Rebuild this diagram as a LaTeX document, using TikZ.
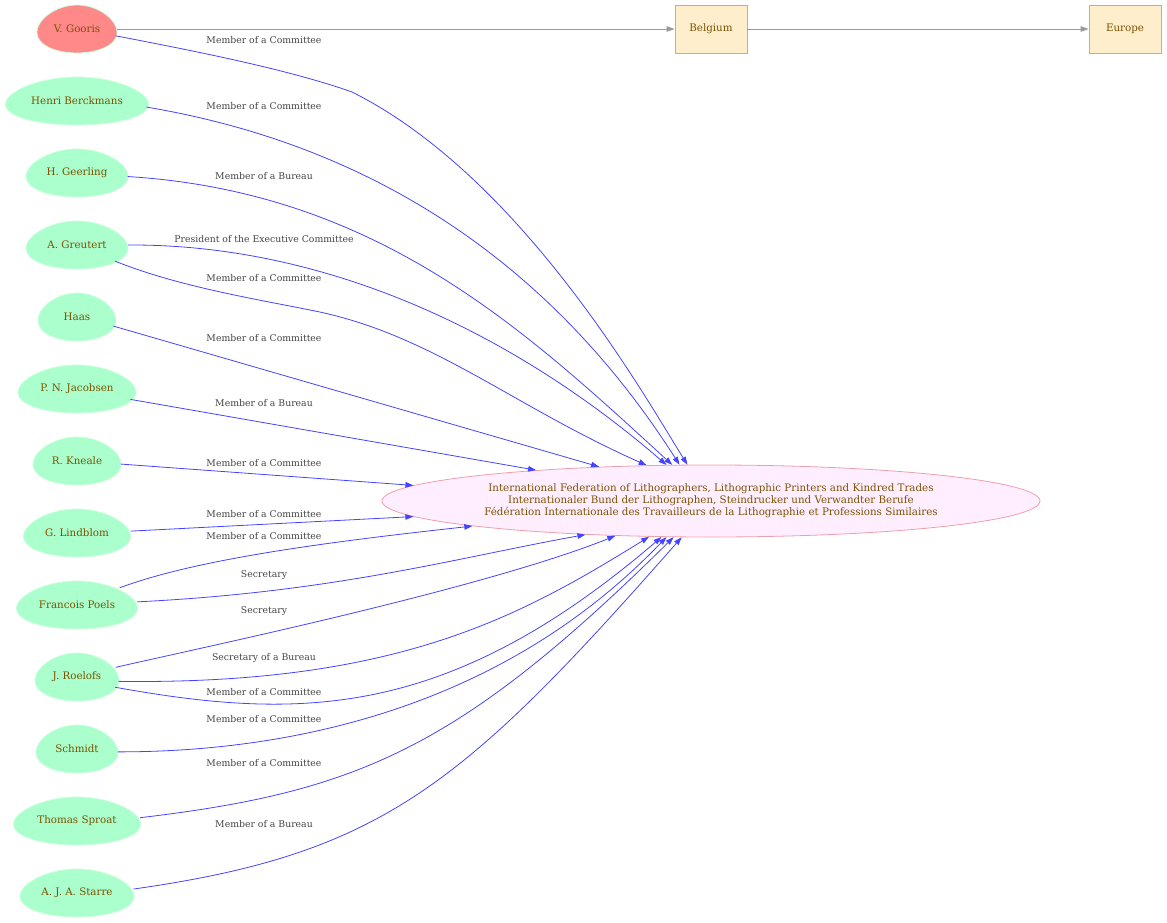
\documentclass[tikz,border=0pt]{standalone}
\usepackage{fontspec}
\setmainfont{DejaVu Serif}
\usetikzlibrary{shapes.geometric, arrows.meta}

\definecolor{eggfill}{HTML}{AAFFCC}
\definecolor{eggline}{HTML}{CCFFDD}
\definecolor{leadfill}{HTML}{FF8888}
\definecolor{namebrown}{HTML}{7A5200}
\definecolor{rolegray}{HTML}{444444}
\definecolor{linkblue}{HTML}{4444FF}
\definecolor{placegray}{HTML}{999999}
\definecolor{orgfill}{HTML}{FFEEFF}
\definecolor{orgline}{HTML}{EEA0A8}
\definecolor{placefill}{HTML}{FFEECC}
\definecolor{placeline}{HTML}{DDAA66}

\tikzset{
  person/.style={ellipse, minimum height=48, inner sep=0, text=namebrown, font=\fontsize{10.3}{12}\selectfont},
  federation/.style={ellipse, draw=orgline, line width=0.8pt, fill=orgfill, minimum width=658, minimum height=72, inner sep=0, align=center, text=namebrown, font=\fontsize{10.3}{12}\selectfont},
  place/.style={rectangle, draw=placeline, line width=0.8pt, fill=placefill, minimum width=72, minimum height=48, inner sep=0, text=namebrown, font=\fontsize{10.3}{12}\selectfont},
  role/.style={text=rolegray, inner sep=0, font=\fontsize{9.3}{10}\selectfont},
  link/.style={draw=linkblue, line width=0.8pt, -{Triangle[length=8pt, width=5.5pt]}},
  placelink/.style={draw=placegray, line width=0.8pt, -{Triangle[length=8pt, width=5.5pt]}}
}

\begin{document}
\begin{tikzpicture}[x=1pt, y=-1pt]
    \useasboundingbox (0,0) rectangle (1167,923);

    % people, drawn as eggs
    \foreach \nm/\y/\w/\fc/\txt in {gooris/29/80/leadfill/V. Gooris, berckmans/101/143/eggfill/Henri Berckmans,
        geerling/173/102/eggfill/H. Geerling, greutert/245/102/eggfill/A. Greutert, haas/317/78/eggfill/Haas,
        jacobsen/389/118/eggfill/P. N. Jacobsen, kneale/461/88/eggfill/R. Kneale, lindblom/533/107/eggfill/G. Lindblom,
        poels/605/121/eggfill/Francois Poels, roelofs/677/84/eggfill/J. Roelofs, schmidt/749/82/eggfill/Schmidt,
        sproat/821/127/eggfill/Thomas Sproat, starre/893/114/eggfill/A. J. A. Starre} {
        \filldraw[fill=\fc, draw=eggline, line width=0.8pt] plot[domain=0:360, samples=73, variable=\t]
            ({77+\w/2.11*cos(\t)*(1.044-0.15*sin(\t))}, {\y-24*sin(\t)}) -- cycle;
        \node[person, minimum width=\w] (\nm) at (77,\y) {\txt};
    }

    \node[federation] (org) at (711,501) {International Federation of Lithographers, Lithographic Printers and Kindred Trades\\
        Internationaler Bund der Lithographen, Steindrucker und Verwandter Berufe\\
        Fédération Internationale des Travailleurs de la Lithographie et Professions Similaires};
    \node[place] (belgium) at (711,29) {Belgium};
    \node[place] (europe) at (1125,29) {Europe};

    \draw[placelink] (gooris) -- (belgium);
    \draw[placelink] (belgium) -- (europe);

    % memberships
    \draw[link] (gooris.350) .. controls (200,52) and (290,70) .. (352,92) .. controls (522,177) and (645,397) .. (org.123);
    \draw[link] (berckmans.355) .. controls (408,151) and (572,296) .. (org.131);
    \draw[link] (geerling.356) .. controls (378,192) and (525,330) .. (org.137);
    \draw[link] (greutert.east) .. controls (328,244) and (515,334) .. (org.141);
    \draw[link] (greutert.337) .. controls (177,286) and (250,298) .. (310,310) .. controls (430,333) and (509,404) .. (org.151);
    \draw[link] (haas.346) -- (org.163);
    \draw[link] (jacobsen.349) -- (org.170);
    \draw[link] (kneale.356) -- (org.177);
    \draw[link] (lindblom.2) -- (org.183);
    \draw[link] (poels.22) .. controls (197,559) and (327,542) .. (org.186);
    \draw[link] (poels.3) .. controls (337,592) and (460,557) .. (org.195);
    \draw[link] (roelofs.14) .. controls (190,650) and (480,590) .. (org.200);
    \draw[link] (roelofs.354) .. controls (398,685) and (521,616) .. (org.210);
    \draw[link] (roelofs.345) .. controls (297,720) and (447,721) .. (org.216);
    \draw[link] (schmidt.356) .. controls (268,752) and (492,719) .. (org.219);
    \draw[link] (sproat.3) .. controls (357,792) and (459,749) .. (org.224);
    \draw[link] (starre.4) .. controls (381,854) and (462,787) .. (org.231);

    \foreach \y/\txt [count=\i] in {40/Member of a Committee, 106/Member of a Committee, 176/Member of a Bureau,
        239/President of the Executive Committee, 278/Member of a Committee, 338/Member of a Committee,
        403/Member of a Bureau, 463/Member of a Committee, 514/Member of a Committee, 536/Member of a Committee,
        575/Secretary, 611/Secretary, 658/Secretary of a Bureau, 692/Member of a Committee,
        719/Member of a Committee, 763/Member of a Committee, 824/Member of a Bureau} {
        \node[role] (role\i) at (264,\y) {\txt};
    }
\end{tikzpicture}
\end{document}
